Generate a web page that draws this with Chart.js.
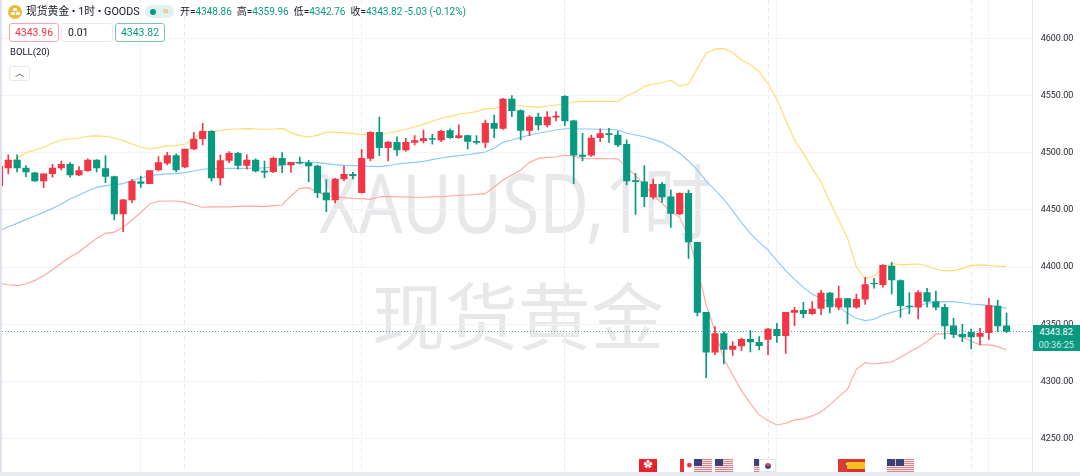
<!DOCTYPE html>
<html lang="zh">
<head>
<meta charset="UTF-8">
<title>现货黄金 XAUUSD 1时</title>
<script src="https://cdn.jsdelivr.net/npm/chart.js"></script>
<style>
html,body{margin:0;padding:0;background:#fff;width:1080px;height:476px;overflow:hidden;font-family:Roboto,"Noto Sans CJK SC",sans-serif;color:#131722}
#wrap{position:relative;width:1080px;height:476px;overflow:hidden}
#chart{position:absolute;left:0;top:0;z-index:2}
.abs{position:absolute;white-space:nowrap}
.wm{z-index:1;color:#e8e8ea;font-family:"Noto Sans","Noto Sans CJK SC",sans-serif;line-height:1}
.head{z-index:3}
.box{z-index:3;box-sizing:border-box;height:19px;line-height:17px;border-radius:3px;border:1px solid;font-size:10.5px;text-align:center;background:#fff}
.g{color:#089981}
.bar{z-index:4;width:4px;height:3px;background:#fff;border-radius:1px}
.flag{position:absolute;top:459px;width:18px;height:13px;z-index:3;box-sizing:border-box}
.us{background:linear-gradient(#39407a,#39407a) 0 0/8px 7px no-repeat,repeating-linear-gradient(#d9848c 0 1px,#f6e6e8 1px 2px)}
</style>
</head>
<body>
<div id="wrap">
<div class="abs" style="left:0;top:0;width:2px;height:476px;background:#e0e3ef;z-index:4"></div>
<div class="abs" style="left:0;top:472px;width:1080px;height:4px;background:#e8eaf2;z-index:4"></div>

<div class="abs wm" style="left:319px;top:160px;font-size:82px;transform:scaleX(.83);transform-origin:left top">XAUUSD,1时</div>
<div class="abs wm" style="left:372px;top:279px;font-size:73px">现货黄金</div>

<div class="abs head" style="left:8px;top:5px;width:14px;height:14px;border-radius:50%;background:#f0b93a"></div>
<div class="abs bar" style="left:13px;top:8px"></div>
<div class="abs bar" style="left:10.5px;top:12px"></div>
<div class="abs bar" style="left:15.5px;top:12px"></div>
<div class="abs head" style="left:26px;top:4px;font-size:10.8px;line-height:16px">现货黄金 • 1时 • GOODS</div>
<div class="abs head" style="left:145px;top:5px;width:29px;height:13px;border-radius:7px;background:#dff2ee"></div>
<div class="abs head" style="left:150px;top:9px;width:6px;height:6px;border-radius:50%;background:#089981"></div>
<div class="abs head" style="left:163px;top:3px;font-size:10px;line-height:16px;color:#ff9850">≈</div>
<div class="abs head" style="left:180px;top:4px;font-size:10px;line-height:16px">开=<span class="g">4348.86</span>&nbsp; 高=<span class="g">4359.96</span>&nbsp; 低=<span class="g">4342.76</span>&nbsp; 收=<span class="g">4343.82</span> <span class="g">-5.03 (-0.12%)</span></div>

<div class="abs box" style="left:9px;top:23px;width:50px;color:#f23645;border-color:#f7a3aa">4343.96</div>
<div class="abs box" style="left:61px;top:23px;width:52px;border-color:#e6e8ef;text-align:left;padding-left:6px">0.01</div>
<div class="abs box" style="left:115px;top:23px;width:50px;color:#089981;border-color:#79c6b8">4343.82</div>
<div class="abs head" style="left:10px;top:45px;font-size:9.5px;line-height:13px">BOLL(20)</div>
<div class="abs box" style="left:9px;top:66px;width:21px;height:15px;line-height:12px;border-color:#e6e8ef;font-size:9px;color:#444">︿</div>

<div id="tag" class="abs" style="left:1032.5px;width:47.5px;height:26px;background:#089981;color:#fff;text-align:center;font-size:9.2px;line-height:13px;z-index:3">
<div id="tagPrice"></div><div style="color:#cfeae4">00:36:25</div></div>

<div class="flag" style="left:639px;background:#e8212e;color:#fff;font-size:9px;line-height:13px;text-align:center">✿</div>
<div class="flag" style="left:680px;background:linear-gradient(90deg,#e8313c 0 4px,#fff 4px 14px,#e8313c 14px);color:#e8313c;font-size:8px;line-height:13px;text-align:center">✹</div>
<div class="flag us" style="left:694px"></div>
<div class="flag us" style="left:715px"></div>
<div class="flag us" style="left:754px"></div>
<div class="flag" style="left:759px;background:#fff;border:1px solid #e6e6ea;width:17px"><div style="width:6px;height:6px;margin:2.5px auto;border-radius:50%;background:linear-gradient(#e23a45 50%,#2a4fa0 50%)"></div></div>
<div class="flag" style="left:838px;background:linear-gradient(#fff,#fff) 8px 4px/6px 2px no-repeat,linear-gradient(#fff,#fff) 10px 2px/2px 6px no-repeat,#dc3b35"></div>
<div class="flag" style="left:847px;background:linear-gradient(#d8342c 0 3px,#f4bf1e 3px 10px,#d8342c 10px)"></div>
<div class="flag us" style="left:887px"></div>
<div class="flag us" style="left:896px"></div>

<canvas id="chart" width="1080" height="476"></canvas>
</div>
<script>
// hourly candles, index 0 is the one cut off at the left edge
const opens = [4471,4486.7,4493.7,4486.7,4482.4,4475.4,4481.8,4486.7,4489.9,4480.6,4484.4,4493.7,4486.1,4479.2,4446.5,4458.8,4474.5,4473,4485,4490.8,4497.5,4487.6,4503.3,4512.4,4518.8,4478,4493.4,4499.5,4489,4493.7,4484.1,4483.5,4495.1,4489.3,4491.6,4491.3,4488.4,4465.1,4458.7,4477.1,4481.2,4465.1,4495.1,4517.9,4504.5,4509.1,4502.4,4509.1,4510.6,4512.3,4511.2,4519.3,4513.2,4515,4510,4509.1,4525.7,4521.3,4547,4536.8,4519.6,4531.2,4524.3,4531.2,4549.3,4527.8,4498,4497.8,4513.2,4516.7,4515.5,4507.4,4475.6,4474.5,4461.4,4472.4,4461.6,4446.5,4464.6,4421.7,4360.6,4325.7,4342,4328.3,4331.2,4337,4334.4,4337,4345.7,4340.2,4360.6,4362.3,4359.4,4364.1,4377.5,4365,4372.5,4365,4372,4386,4384.8,4401.1,4388.3,4366.1,4365,4377.8,4369.9,4365,4348.7,4341.4,4343.1,4339.6,4342.8,4366.1,4348.86];
const highs = [4488,4498.1,4498.1,4488.8,4483,4481.5,4489.9,4492.8,4491.4,4487.9,4494.6,4494,4497.5,4479.7,4459.4,4476.8,4479.7,4484.4,4496.6,4500.4,4499,4503.3,4517.9,4525.8,4519.3,4498.1,4501,4500.4,4498.1,4494.6,4492.8,4496.3,4500.1,4491.6,4496.3,4493.4,4489.3,4476.5,4477.7,4488.4,4482.9,4503,4518.4,4531.2,4509.7,4514,4512.6,4515,4519.9,4516.1,4519.9,4520.8,4524.3,4515.5,4515,4528.6,4533,4547.6,4549.9,4537.4,4532.4,4534.7,4535.9,4535.9,4549.9,4528.6,4517,4515.5,4520.8,4521.3,4519,4511.2,4482,4488.7,4477.1,4474.2,4467.5,4465.1,4467.5,4421.7,4360.6,4348.1,4343.7,4335,4338.2,4344.6,4339.3,4346.6,4351,4360.6,4365,4369.3,4369.9,4380.1,4378,4383.6,4372.8,4376.6,4391.2,4390.3,4402.3,4404.3,4388.9,4377.8,4379.5,4381.6,4379.2,4367.9,4355.4,4350.1,4346,4346.6,4372.8,4371.4,4359.96];
const lows = [4471,4481.5,4483.2,4479.2,4475,4469.5,4478.6,4485,4478.6,4480,4483.8,4483.2,4473.9,4441.3,4431.1,4456.4,4469.8,4473,4484.1,4489.4,4483.2,4487,4502.7,4506.8,4475.1,4471.6,4491.4,4485.6,4485.6,4483.2,4478.3,4482.6,4482.6,4482.9,4490.2,4474.8,4460.8,4448.5,4456.1,4475.3,4477.1,4464.6,4492.8,4497.5,4492.8,4497.5,4501.5,4506.8,4508.5,4507.4,4509.7,4512.6,4512.6,4503.3,4507.4,4504.5,4513.2,4520.5,4531.5,4511.2,4514.9,4519.9,4522.5,4527.8,4523.7,4473,4492.8,4496.9,4509.7,4509.1,4505.3,4471.8,4446.2,4452.9,4459.6,4456.7,4434.8,4445.6,4407.8,4357.4,4303.5,4323.6,4315.5,4323,4327.1,4326,4327.7,4323.6,4334.4,4324.8,4349,4356,4358.8,4358.6,4360,4362.6,4350.4,4364.1,4367.6,4381.6,4382.5,4376.6,4356.2,4359.2,4354.8,4365,4362.6,4337.3,4338.5,4335,4328.6,4332.1,4337,4343.7,4342.76];
const closes = [4488,4493.7,4486.7,4483.2,4475.4,4481.5,4486.7,4489.9,4480.6,4484.4,4493.7,4486.7,4479.4,4446.5,4458.8,4475.1,4473.3,4484.4,4491.4,4497.5,4485,4503.3,4512,4518.8,4478,4493.1,4499.5,4489,4493.7,4484.1,4483,4495.1,4489.3,4491.6,4490.8,4488.4,4465.1,4458.7,4477.1,4481.2,4480,4495.1,4517.9,4504.5,4509.4,4502.4,4509.1,4510.6,4512.3,4511.7,4518.7,4513.2,4515,4510,4509.1,4525.7,4521.3,4547,4536.8,4519.6,4531.2,4524.3,4531.2,4532.1,4527.8,4498,4496.9,4512.9,4516.7,4515.8,4506.8,4475.3,4474.8,4461.6,4472.4,4461.4,4447.1,4464.6,4422,4360.6,4325.7,4342,4328.3,4331.2,4337,4334.7,4331.5,4346,4340.2,4360.6,4362.3,4359.4,4363.5,4377.5,4365.3,4372.5,4365,4372,4384.8,4385.4,4401.7,4388.9,4366.4,4365.6,4377.8,4370.2,4365,4348.7,4341.4,4339.1,4339.1,4342.3,4366.4,4348.7,4343.82];

// BOLL(20)
const bollUpper = [4485.6,4490.8,4495.2,4500.1,4502.2,4504.8,4508.3,4511.2,4512,4512.9,4514.4,4514.7,4514.4,4512.9,4510.6,4507.7,4504.8,4503.3,4504.5,4506,4506.2,4507.7,4512.6,4518.2,4518.8,4519.3,4520.5,4520.8,4521.1,4520.8,4520.5,4520.8,4521.3,4517.6,4515,4513.8,4515.2,4518.1,4517.8,4517.6,4516.7,4515.8,4516.4,4516.1,4517.3,4518.7,4520.5,4522.5,4524.8,4527.5,4530.1,4531.8,4533.6,4534.7,4535.9,4538.5,4538.5,4540.9,4541.1,4541.1,4540.3,4539.7,4540.9,4541.7,4542.6,4544.3,4544.9,4544.9,4544.9,4544.9,4544.9,4549.9,4553.1,4558,4560.1,4561.2,4563.3,4558.3,4560.1,4573.7,4586.9,4590.6,4591.2,4587.4,4581,4577,4570.8,4560.1,4546.7,4528.6,4511.1,4499.5,4486.4,4474.2,4457.3,4441.3,4425.3,4400.2,4389.8,4392.3,4399,4403.4,4402,4402.5,4402.8,4401.1,4398.2,4397,4397,4399,4401.4,4402,4401.7,4400.8,4400.8];
const bollMiddle = [4431.9,4435.4,4438.3,4441.8,4444.7,4447.9,4451.4,4455.2,4459.6,4463.1,4466.6,4469.8,4471.3,4471.9,4473,4475.7,4478,4480,4480.9,4481.5,4481.8,4482.7,4484.1,4485.6,4486.1,4486.1,4486.4,4486.4,4486.4,4486.7,4486.7,4487.9,4489.3,4490.8,4491.6,4491.6,4491.4,4490.5,4489.6,4489,4488.7,4488.4,4488.1,4487.9,4488.7,4490.2,4491,4491.6,4492.5,4494,4495.4,4496.6,4497.5,4498.3,4499.5,4500.7,4503.9,4509.1,4511.2,4513.2,4515.5,4517.3,4518.4,4519.9,4521,4521,4520.8,4520.8,4520.5,4520.5,4519.9,4517,4515.5,4514,4511.7,4509.1,4504.5,4499.5,4492.8,4485,4475.3,4467.5,4459.3,4449.4,4438.9,4429.6,4421.7,4415,4405.7,4397,4389.4,4382.4,4376.6,4372.8,4369,4365,4359.7,4355.4,4353.3,4354.5,4358.3,4360.6,4362.6,4365,4366.1,4368.5,4369.3,4369.9,4369.9,4369,4367.9,4367.3,4366.4,4365.6,4364.1];
const bollLower = [4385.9,4384.7,4383.9,4385.3,4388.5,4392.6,4397.8,4403.4,4408.9,4413.3,4419.4,4425.2,4429.6,4430.7,4434.8,4441.2,4447.8,4455.3,4457.6,4457.9,4457.9,4456.7,4454.4,4452.4,4452.7,4452.7,4452.7,4453.2,4453.5,4453.2,4452.9,4453.8,4454.4,4462.5,4468.9,4469.5,4465.4,4463.1,4461.4,4460.8,4460.2,4459.9,4459.3,4461.6,4461.9,4461.6,4461.4,4461.1,4461.1,4461.4,4461.6,4462.2,4462.8,4463.1,4463.7,4464.3,4470.1,4476.2,4480.6,4484.9,4491.6,4495.1,4496,4496.3,4497.8,4497.2,4494.8,4494.8,4495.1,4494.8,4494.6,4487.3,4480,4471.8,4463.1,4455.8,4448,4443.6,4426.7,4399,4367,4344.3,4319.8,4305.9,4292.2,4281.1,4271,4266,4262.2,4263.7,4266.6,4267.5,4270.1,4273.6,4279.7,4287,4293.4,4310.8,4316.7,4315.5,4316.4,4317.2,4321.4,4326,4330,4335,4341.5,4342,4342.3,4338.8,4335.6,4332.1,4332.1,4330.6,4327.7];

const priceTicks = [4250,4300,4350,4400,4450,4500,4550,4600];
const hourGrid = [16,40,64,88,112];
const sessionBreaks = [21,41,64,87,110];

const upColor = '#f23645', downColor = '#089981';
const candleColors = closes.map((c,i) => c >= opens[i] ? upColor : downColor);
const xMin = 0.287, xMax = 116.96;
const lastClose = closes[closes.length-1];

function bandDataset(values, color) {
    return { type:'line', data: values.map((v,i) => ({x:i, y:v})), borderColor: color, borderWidth: 1.15,
             pointRadius: 0, tension: 0, order: 3 };
}
// hidden x axes must not take any room
function flatAxis(a) { a.height = 0; a.paddingLeft = 0; a.paddingRight = 0; a.paddingTop = 0; a.paddingBottom = 0; }

const chart = new Chart(document.getElementById('chart'), {
    data: { datasets: [
        { type:'bar', data: opens.map((o,i) => ({x:i, y:[o,closes[i]]})), backgroundColor: candleColors, barThickness: 6.5, grouped:false, order: 1 },
        { type:'bar', data: lows.map((l,i) => ({x:i, y:[l,highs[i]]})), backgroundColor: candleColors, barThickness: 1, grouped:false, order: 2 },
        bandDataset(bollUpper, '#ffdb70'),
        bandDataset(bollMiddle, '#8cc8fb'),
        bandDataset(bollLower, '#ffa8a0'),
        { type:'line', data: [{x:xMin,y:lastClose},{x:xMax,y:lastClose}], borderColor:'#3fae99', borderWidth:1, borderDash:[1,2], pointRadius:0, order:4 }
    ]},
    options: {
        responsive:false, animation:false, events:[],
        layout:{ padding:{ left:2, bottom:4, top:0, right:0 } },
        plugins:{ legend:{display:false}, tooltip:{enabled:false} },
        scales:{
            x:{ type:'linear', offset:false, min:xMin, max:xMax, position:'bottom',
                afterBuildTicks: a => { a.ticks = hourGrid.map(v => ({value:v})); },
                afterFit: flatAxis,
                ticks:{display:false}, border:{display:false},
                grid:{color:'#f3f4f7', drawTicks:false, lineWidth:1, offset:false} },
            sessions:{ type:'linear', axis:'x', offset:false, min:xMin, max:xMax, position:'bottom',
                afterBuildTicks: a => { a.ticks = sessionBreaks.map(v => ({value:v})); },
                afterFit: flatAxis,
                ticks:{display:false}, border:{display:false, dash:[4,4]},
                grid:{color:'#e9eaee', drawTicks:false, lineWidth:1, offset:false} },
            y:{ position:'right', min:4221.1, max:4633.46,
                afterFit: a => { a.width = 47.3; a.paddingTop = 0; a.paddingBottom = 0; },
                afterBuildTicks: a => { a.ticks = priceTicks.map(v => ({value:v})); },
                ticks:{ color:'#1f222b', font:{family:'Roboto', size:9}, padding:8, callback: v => v.toFixed(2) },
                border:{color:'#e6e8ee'},
                grid:{color:'#f3f4f7', drawTicks:false} }
        }
    }
});

// price tag sits on the close
document.getElementById('tagPrice').textContent = lastClose.toFixed(2);
document.getElementById('tag').style.top = (chart.scales.y.getPixelForValue(lastClose) - 6.5) + 'px';
</script>
</body>
</html>
